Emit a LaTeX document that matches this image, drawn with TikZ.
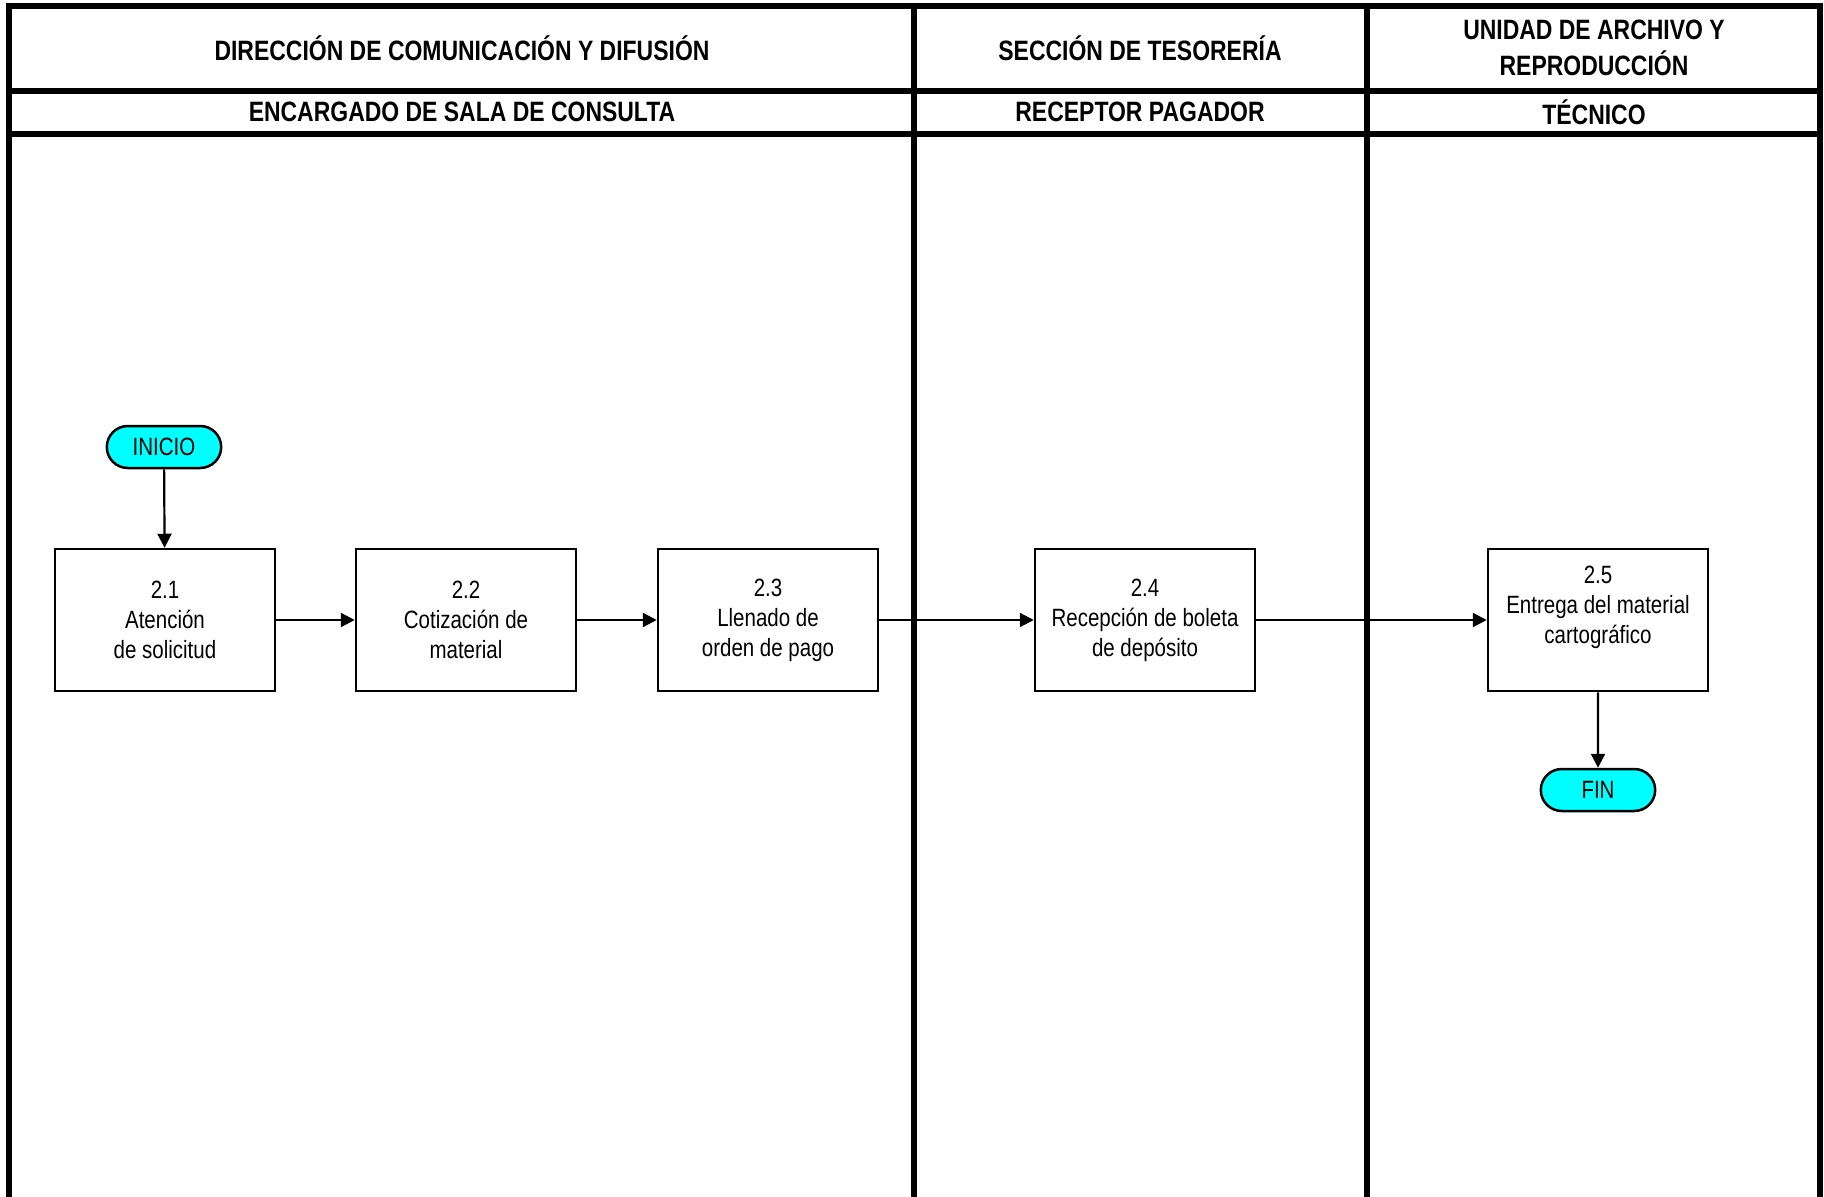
\documentclass[tikz,border=0pt]{standalone}
\usepackage{fontspec}
\setmainfont{Liberation Sans}[FakeStretch=0.82]
\usepackage{tikz}
\usetikzlibrary{arrows.meta,shapes.misc}
\definecolor{termcyan}{RGB}{0,255,255}

\begin{document}
\begin{tikzpicture}[x=1pt, y=-1pt, >={Triangle[length=14pt,width=14pt]},
lane_style/.style={draw=black, line width=6pt},
head_style/.style={font=\bfseries\fontsize{28}{36}\selectfont, align=center},
task_style/.style={rectangle, draw=black, line width=2.5pt, fill=white, minimum width=220pt, minimum height=142pt, align=center, font=\fontsize{25}{30}\selectfont},
term_style/.style={rounded rectangle, draw=black, line width=2.5pt, fill=termcyan, minimum width=121pt, minimum height=42pt, font=\fontsize{25}{26}\selectfont},
edge_style/.style={draw=black, line width=2.2pt, ->}]
\useasboundingbox (0,0) rectangle (1824,1197);

% lanes and header rows
\draw[lane_style] (9,1197) -- (9,6) -- (1820,6) -- (1820,1197);
\draw[lane_style] (9,91) -- (1820,91);
\draw[lane_style] (9,134) -- (1820,134);
\draw[lane_style] (914,6) -- (914,1197);
\draw[lane_style] (1367,6) -- (1367,1197);

\node[head_style] (dir) at (462,48) {DIRECCIÓN DE COMUNICACIÓN Y DIFUSIÓN};
\node[head_style] (tes) at (1140,48) {SECCIÓN DE TESORERÍA};
\node[head_style] (arc) at (1594,48) {UNIDAD DE ARCHIVO Y\\REPRODUCCIÓN};
\node[head_style] (enc) at (462,112) {ENCARGADO DE SALA DE CONSULTA};
\node[head_style] (rec) at (1140,112) {RECEPTOR PAGADOR};
\node[head_style] (tec) at (1594,112) {TÉCNICO};

% steps
\node[term_style] (inicio) at (164,447) {INICIO};
\node[task_style] (s21) at (165,620) {2.1\\Atención\\de solicitud};
\node[task_style] (s22) at (466,620) {2.2\\Cotización de\\material};
\node[task_style] (s23) at (768,620) {2.3\\Llenado de\\orden de pago};
\node[task_style] (s24) at (1145,620) {2.4\\Recepción de boleta\\de depósito};
\node[task_style] (s25) at (1598,620) {2.5\\Entrega del material\\cartográfico\\\mbox{}};
\node[term_style] (fin) at (1598,790) {FIN};

\draw[edge_style] (inicio) edge (s21);
\draw[edge_style] (s21) edge (s22);
\draw[edge_style] (s22) edge (s23);
\draw[edge_style] (s23) edge (s24);
\draw[edge_style] (s24) edge (s25);
\draw[edge_style] (s25) edge (fin);
\end{tikzpicture}
\end{document}
